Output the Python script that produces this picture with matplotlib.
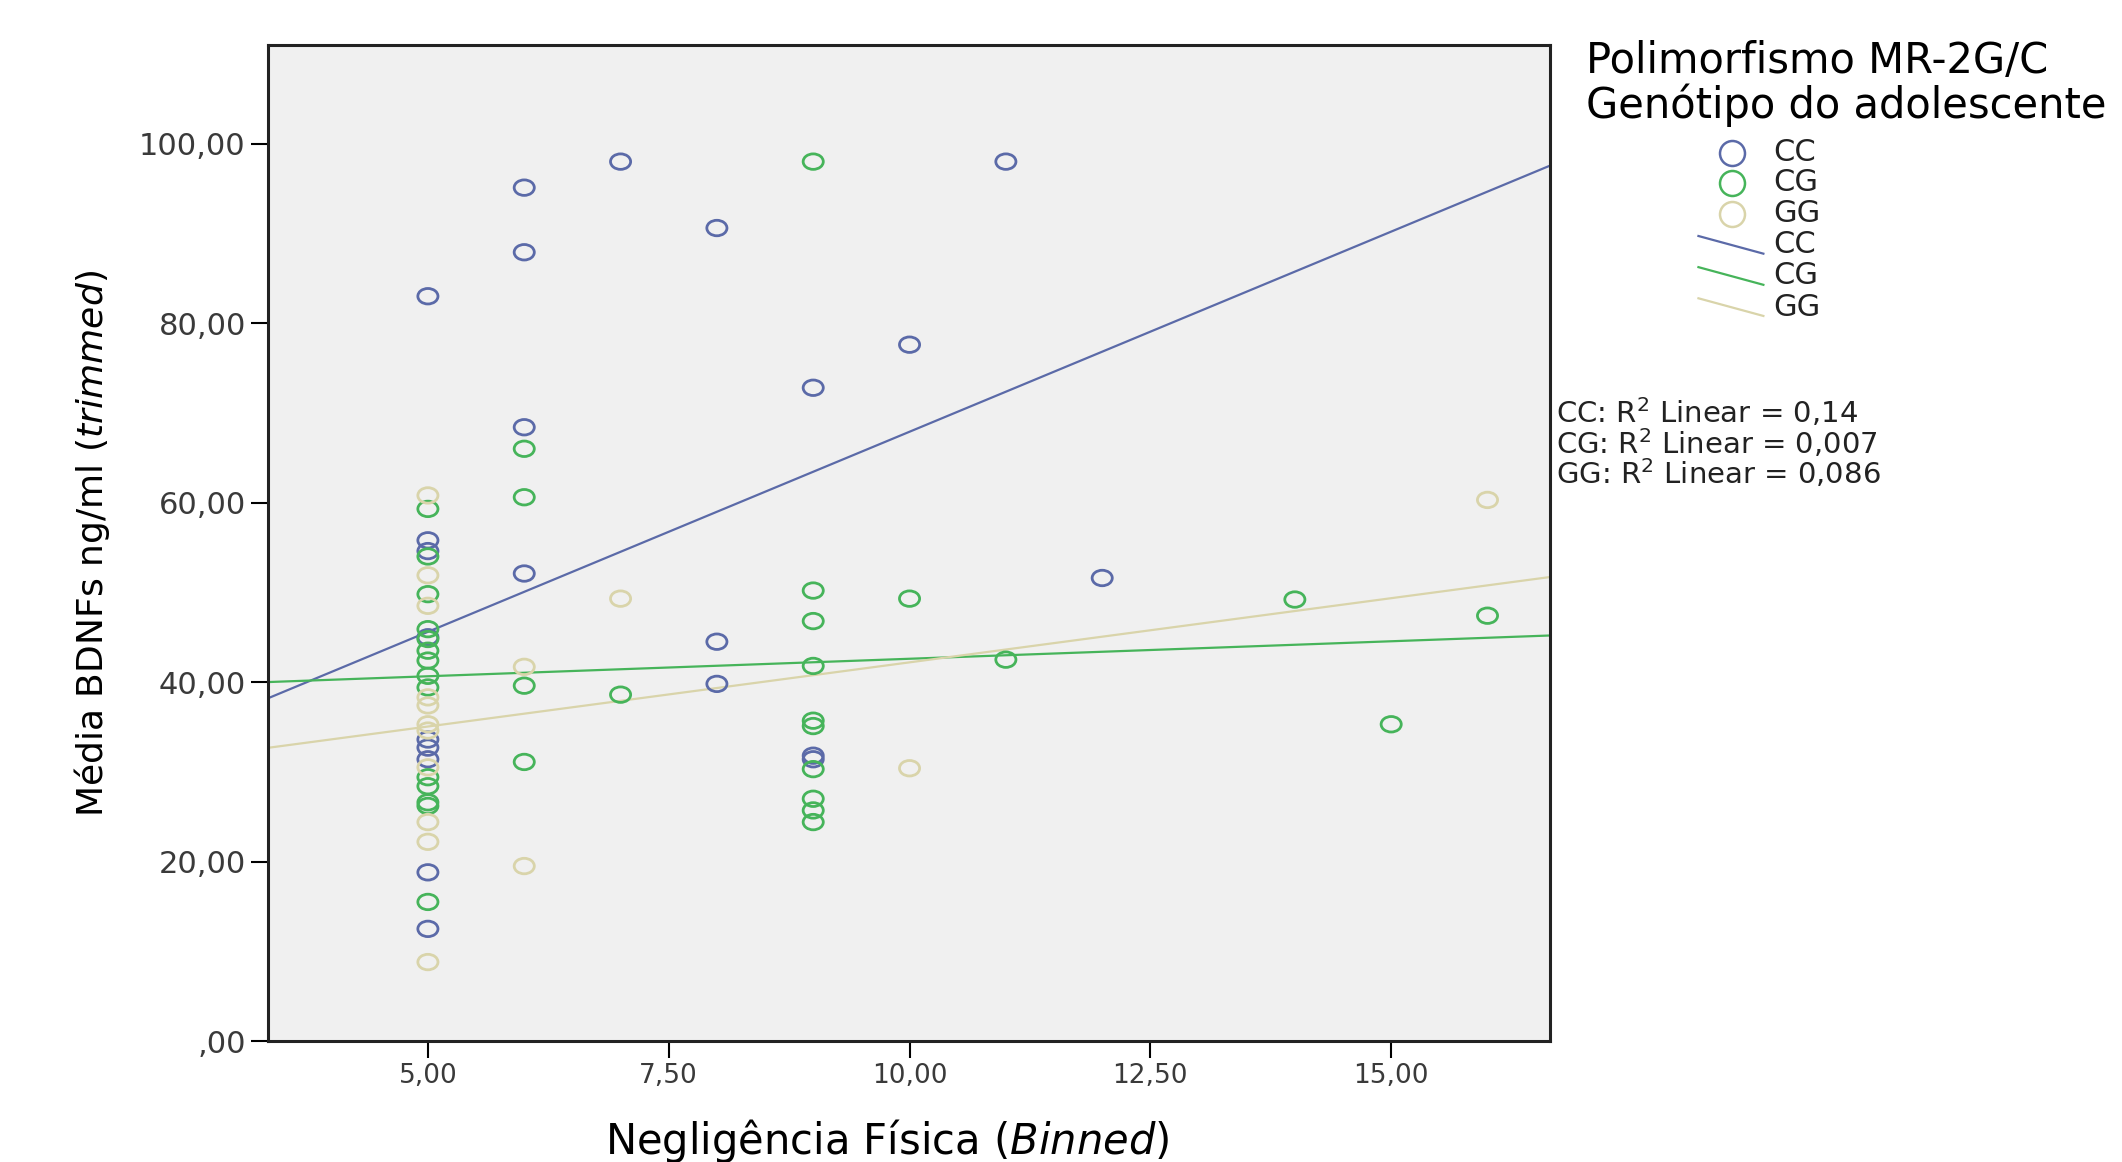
import matplotlib
matplotlib.use("Agg")
import numpy as np
import matplotlib.pyplot as plt
from matplotlib.lines import Line2D
from matplotlib.path import Path

# scatter data
cc_x = [5, 5, 5, 5, 5, 5, 5, 5, 5,
        6, 6, 6, 6, 7, 8, 8, 8, 9, 9, 9, 10, 11, 12]
cc_y = [83.0, 55.8, 54.6, 45.0, 33.6, 32.7, 31.4, 18.8, 12.5,
        95.1, 87.9, 68.4, 52.1, 98.0, 90.6, 44.5, 39.8, 72.8, 31.8, 31.4,
        77.6, 98.0, 51.6]

cg_x = [5, 5, 5, 5, 5, 5, 5, 5, 5, 5, 5, 5, 5, 5,
        6, 6, 6, 6, 7,
        9, 9, 9, 9, 9, 9, 9, 9, 9, 9,
        10, 11, 14, 15, 16]
cg_y = [59.3, 54.0, 49.8, 45.9, 44.8, 43.5, 42.4, 40.7, 39.4, 29.4, 28.4, 26.6, 26.2, 15.5,
        66.0, 60.6, 39.6, 31.1, 38.6,
        98.0, 50.2, 46.8, 41.8, 35.7, 35.1, 30.3, 27.0, 25.7, 24.4,
        49.3, 42.5, 49.2, 35.3, 47.4]

gg_x = [5, 5, 5, 5, 5, 5, 5, 5, 5, 5, 5,
        6, 6, 7, 10, 16]
gg_y = [60.8, 51.9, 48.5, 38.3, 37.4, 35.3, 34.6, 30.5, 24.4, 22.2, 8.8,
        41.7, 19.5, 49.3, 30.4, 60.3]

# fit lines (intercept, slope)
fit_cc = [23.3, 4.46]
fit_cg = [38.7, 0.39]
fit_gg = [27.9, 1.43]

groups = ["CC", "CG", "GG"]
r2_text = ["0,14", "0,007", "0,086"]
x_ticks = [5, 7.5, 10, 12.5, 15]
y_ticks = [0, 20, 40, 60, 80, 100]

colors = ["#5b6aa8", "#46b45a", "#d9d4aa"]

plt.rcParams["font.family"] = ["DejaVu Sans"]

# slightly wide ellipse, like the stretched SPSS markers
circ = Path.unit_circle()
ellipse = Path(circ.vertices * np.array([1.3, 1.0]), circ.codes)

fig = plt.figure(figsize=(21.22, 11.62), dpi=100)
ax = fig.add_axes([0.1263, 0.1041, 0.6042, 0.8572])
ax.set_facecolor("#f0f0f0")

xlim = (3.34, 16.65)
ax.set_xlim(xlim)
ax.set_ylim(0, 111)

xs = np.array(xlim)
for (gx, gy, fit, c) in zip([cc_x, cg_x, gg_x], [cc_y, cg_y, gg_y],
                            [fit_cc, fit_cg, fit_gg], colors):
    ax.scatter(gx, gy, s=210, marker=ellipse, facecolors="none", edgecolors=c,
               linewidths=2.0, zorder=3)
    ax.plot(xs, fit[0] + fit[1] * xs, color=c, lw=1.6, zorder=2)

ax.set_xticks(x_ticks)
ax.set_xticklabels([("%.2f" % v).replace(".", ",") for v in x_ticks])
ax.set_yticks(y_ticks)
ax.set_yticklabels([",00" if v == 0 else ("%.2f" % v).replace(".", ",") for v in y_ticks])
ax.tick_params(length=12, width=1.5, labelcolor="#3a3a3a", pad=4)
ax.tick_params(axis="x", labelsize=19)
ax.tick_params(axis="y", labelsize=22)

for sp in ax.spines.values():
    sp.set_linewidth(2.2)
    sp.set_color("#222222")

ax.set_xlabel("Negligência Física $\\it{(Binned)}$", fontsize=30)
ax.xaxis.set_label_coords(0.4826, -0.1005)
ax.xaxis.label.set_va("center")
ax.set_ylabel("Média BDNFs ng/ml $\\it{(trimmed)}$", fontsize=26)
ax.yaxis.set_label_coords(-0.137, 0.5)
ax.yaxis.label.set_va("center")

# legend drawn by hand to mimic the SPSS layout
fig.text(0.7474, 0.9476, "Polimorfismo MR-2G/C", fontsize=30, va="center", ha="left")
fig.text(0.7474, 0.909, "Genótipo do adolescente", fontsize=30, va="center", ha="left")

entry_y = [0.8685, 0.8428, 0.8161, 0.7893, 0.7625, 0.7357]
for i, g in enumerate(groups):
    y = entry_y[i]
    fig.add_artist(Line2D([0.8163], [y], marker="o", ms=18, mfc="none",
                          mec=colors[i], mew=1.8, transform=fig.transFigure))
    fig.text(0.8355, y, g, fontsize=22, va="center", ha="left", color="#222222")
for i, g in enumerate(groups):
    y = entry_y[i + 3]
    fig.add_artist(Line2D([0.8004, 0.8310], [y + 0.0076, y - 0.0076], color=colors[i],
                          lw=1.6, transform=fig.transFigure))
    fig.text(0.8355, y, g, fontsize=22, va="center", ha="left", color="#222222")

r2_y = [0.645, 0.618, 0.5925]
for i, g in enumerate(groups):
    fig.text(0.7334, r2_y[i], "%s: R$^2$ Linear = %s" % (g, r2_text[i]),
             fontsize=21, va="center", ha="left", color="#222222")

fig.savefig("out.png", dpi=100)
